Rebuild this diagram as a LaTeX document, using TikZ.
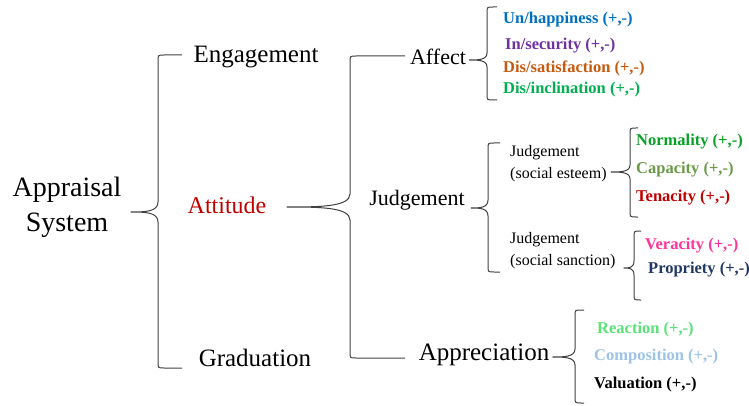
\documentclass[tikz,border=0pt]{standalone}
\usepackage{fontspec}
\setmainfont{Liberation Serif}
\usetikzlibrary{calc}
\definecolor{bleu}{RGB}{0,112,192}
\definecolor{violet}{RGB}{112,48,160}
\definecolor{orange}{RGB}{197,90,17}
\definecolor{vert}{RGB}{0,176,80}
\definecolor{vertfonce}{RGB}{10,160,40}
\definecolor{olive}{RGB}{106,154,72}
\definecolor{rouge}{RGB}{192,0,0}
\definecolor{rose}{RGB}{255,51,153}
\definecolor{marine}{RGB}{32,56,100}
\definecolor{vertclair}{RGB}{90,225,120}
\definecolor{bleuclair}{RGB}{157,195,230}
% accolade : parent, gap, vertical x, end x, top y, mid y, bottom y, reach
\newcommand{\accolade}[8]{%
\coordinate (milieu) at (#3,#6);
\coordinate (pointe) at ($(#1.east |- milieu)+(#2,0)$);
\draw[accolade] (#4,#5) -- ($(#3,#5)+(6,0)$) .. controls (#3,#5) .. ($(#3,#5)+(0,6)$)
  -- ($(#3,#6)+(0,-#8)$) .. controls (milieu) and ($(pointe)!0.5!(milieu)$) .. (pointe)
  .. controls ($(pointe)!0.5!(milieu)$) and (milieu) .. ($(#3,#6)+(0,#8)$)
  -- ($(#3,#7)+(0,-6)$) .. controls (#3,#7) .. ($(#3,#7)+(6,0)$) -- (#4,#7);
}
\begin{document}
\begin{tikzpicture}[x=1pt,y=-1pt]
\tikzstyle{accolade}=[draw=black!75, line width=1pt]
\tikzstyle{racine}=[inner sep=2pt, align=center, font=\fontsize{28}{35}\selectfont]
\tikzstyle{niveau}=[inner sep=2pt, font=\fontsize{25}{30}\selectfont]
\tikzstyle{sousniveau}=[inner sep=2pt, font=\fontsize{22}{26}\selectfont]
\tikzstyle{groupe}=[inner sep=0pt, anchor=west, align=left, font=\fontsize{16}{22}\selectfont]
\tikzstyle{feuille}=[inner sep=0pt, anchor=west, font=\bfseries\fontsize{16.5}{20}\selectfont]
\useasboundingbox (0,0) rectangle (749,406);
% racine et premier niveau
\node[racine] (app) at (67,207) {Appraisal\\System};
\node[niveau] (eng) at (256,57) {Engagement};
\node[niveau, text=rouge, font=\fontsize{24}{28}\selectfont] (att) at (227,205) {Attitude};
\node[niveau] (grad) at (255,358) {Graduation};
% second niveau
\node[sousniveau] (aff) at (438,57) {Affect};
\node[sousniveau] (jug) at (417,200) {Judgement};
\node[niveau] (appr) at (484,355) {Appreciation};
% affect
\node[feuille, text=bleu] (unhap) at (503,20) {Un/happiness (+,-)};
\node[feuille, text=violet] (insec) at (505,46) {In/security (+,-)};
\node[feuille, text=orange] (dissat) at (503,68) {Dis/satisfaction (+,-)};
\node[feuille, text=vert] (disincl) at (503,90) {Dis/inclination (+,-)};
% judgement
\node[groupe] (estime) at (510,164) {Judgement\\(social esteem)};
\node[groupe] (sanction) at (510,251) {Judgement\\(social sanction)};
\node[feuille, text=vertfonce] (norm) at (636,142) {Normality (+,-)};
\node[feuille, text=olive] (capa) at (636,170) {Capacity (+,-)};
\node[feuille, text=rouge] (tena) at (636,198) {Tenacity (+,-)};
\node[feuille, text=rose] (vera) at (645,246) {Veracity (+,-)};
\node[feuille, text=marine] (prop) at (648,270) {Propriety (+,-)};
% appreciation
\node[feuille, text=vertclair] (reac) at (597,330) {Reaction (+,-)};
\node[feuille, text=bleuclair] (compo) at (594,357) {Composition (+,-)};
\node[feuille] (valu) at (594,385) {Valuation (+,-)};
% accolades
\accolade{app}{7}{158}{182}{55}{212}{368}{10}
\accolade{att}{18}{350}{405}{56}{207}{358}{13}
\accolade{aff}{1}{487}{497}{7}{60}{100}{7}
\accolade{jug}{4}{488}{500}{143}{208}{272}{8}
\accolade{estime}{4}{630}{638}{128}{172}{217}{7}
\accolade{sanction}{8}{634}{641}{231}{268}{300}{7}
\accolade{appr}{1}{575}{584}{310}{357}{403}{8}
\end{tikzpicture}
\end{document}
